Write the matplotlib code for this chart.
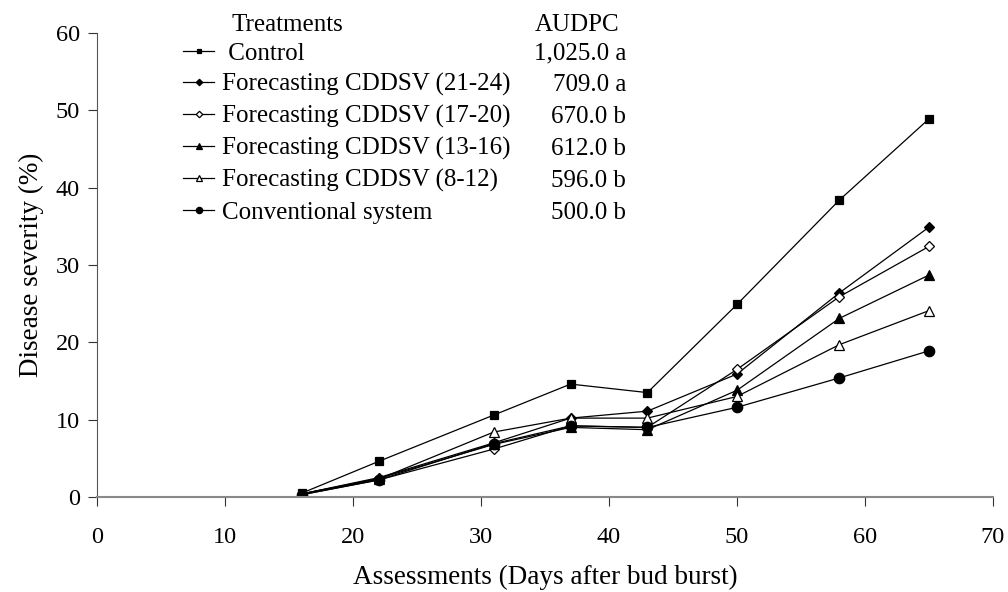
import matplotlib
matplotlib.use("Agg")
import matplotlib.pyplot as plt

days = [16, 22, 31, 37, 43, 50, 58, 65]
treatments = [" Control", "Forecasting CDDSV (21-24)", "Forecasting CDDSV (17-20)",
              "Forecasting CDDSV (13-16)", "Forecasting CDDSV (8-12)", "Conventional system"]
audpc = ["1,025.0 a", "709.0 a", "670.0 b", "612.0 b", "596.0 b", "500.0 b"]

control = [0.5, 4.6, 10.6, 14.6, 13.5, 24.9, 38.4, 48.9]
cddsv_21_24 = [0.4, 2.5, 7.0, 10.2, 11.1, 15.9, 26.4, 34.9]
cddsv_17_20 = [0.3, 2.2, 6.2, 9.2, 9.0, 16.5, 25.9, 32.4]
cddsv_13_16 = [0.4, 2.4, 6.8, 9.0, 8.7, 13.8, 23.1, 28.7]
cddsv_8_12 = [0.4, 2.3, 8.4, 10.2, 10.2, 13.0, 19.7, 24.1]
conventional = [0.3, 2.2, 6.9, 9.2, 9.0, 11.6, 15.4, 18.9]

series = [control, cddsv_21_24, cddsv_17_20, cddsv_13_16, cddsv_8_12, conventional]
styles = [
    dict(marker="s", mfc="black", ms=6),
    dict(marker="D", mfc="black", ms=5.5),
    dict(marker="D", mfc="white", ms=5.5),
    dict(marker="^", mfc="black", ms=7),
    dict(marker="^", mfc="white", ms=7),
    dict(marker="o", mfc="black", ms=7.5),
]

plt.rcParams["font.family"] = ["Liberation Serif", "DejaVu Serif"]
FS_TICK = 17.5
FS_LEG = 18
FS_LAB = 19.5

fig = plt.figure(figsize=(10.08, 5.92), dpi=100)
ax = fig.add_axes([97 / 1008, 1 - 497 / 592, (993 - 97) / 1008, (497 - 33) / 592])

handles = []
for vals, st, lab in zip(series, styles, treatments):
    ln, = ax.plot(days, vals, color="black", lw=0.9, marker=st["marker"],
                  mfc=st["mfc"], mec="black", mew=0.9, ms=st["ms"], label=lab)
    handles.append(ln)

ax.set_xlim(0, 70)
ax.set_ylim(0, 60)
ax.set_xticks(range(0, 71, 10))
ax.set_yticks(range(0, 61, 10))
for s in ["top", "right"]:
    ax.spines[s].set_visible(False)
ax.spines["left"].set_color("#555555")
ax.spines["bottom"].set_color("#888888")
ax.spines["bottom"].set_linewidth(1.5)
ax.tick_params(axis="both", labelsize=FS_TICK, direction="out", length=6.5, color="#333333")
ax.tick_params(axis="x", pad=15)
ax.tick_params(axis="y", pad=6)
ax.set_xlabel("Assessments (Days after bud burst)", fontsize=FS_LAB, labelpad=12)
ax.set_ylabel("Disease severity (%)", fontsize=FS_LAB, labelpad=8)

leg = ax.legend(handles=handles, labels=treatments, loc="upper left",
                bbox_to_anchor=(183 / 1008, 1 - 42 / 592), bbox_transform=fig.transFigure,
                frameon=False, fontsize=FS_LEG, handlelength=1.24, handletextpad=0.32,
                labelspacing=0.355, markerscale=0.6, borderpad=0, borderaxespad=0)

fig.text(231 / 1008, 1 - 25 / 592, "Treatments", fontsize=FS_LEG, ha="left", va="center")
fig.text(577 / 1008, 1 - 25 / 592, "AUDPC", fontsize=FS_LEG, ha="center", va="center")

fig.canvas.draw()
renderer = fig.canvas.get_renderer()
inv = fig.transFigure.inverted()
for t, val in zip(leg.get_texts(), audpc):
    bb = t.get_window_extent(renderer)
    yc = (bb.y0 + bb.y1) / 2
    _, yf = inv.transform((0, yc))
    fig.text(626 / 1008, yf, val, fontsize=FS_LEG, ha="right", va="center")

fig.savefig("out.png", dpi=100)
